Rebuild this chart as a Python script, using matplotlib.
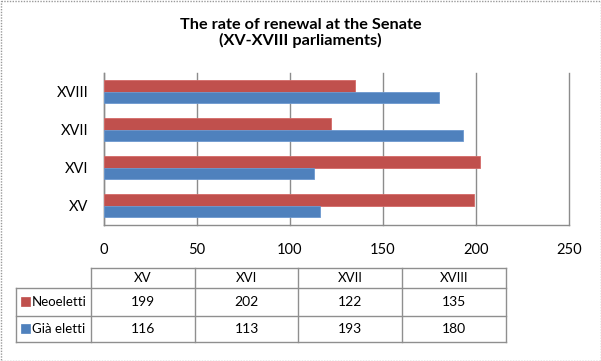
import matplotlib
matplotlib.use("Agg")
import matplotlib.pyplot as plt
from matplotlib.patches import Rectangle

# data
parliaments = ["XV", "XVI", "XVII", "XVIII"]
neoeletti = [199, 202, 122, 135]
gia_eletti = [116, 113, 193, 180]
series_names = ["Neoeletti", "Già eletti"]
series_colors = ["#C0504D", "#4F81BD"]
x_ticks = [0, 50, 100, 150, 200, 250]

plt.rcParams["font.family"] = ["Lato", "DejaVu Sans"]

W, H = 601, 361
fig = plt.figure(figsize=(W / 100, H / 100), dpi=100)
fig.patch.set_facecolor("white")

# plot area in pixels
px_left, px_right, px_top, px_bottom = 104, 569, 72.7, 224.7
ax = fig.add_axes([px_left / W, 1 - px_bottom / H,
                   (px_right - px_left) / W, (px_bottom - px_top) / H])

grid_col = "#8C8C8C"
h = 0.3
ys = list(range(len(parliaments)))
ax.barh([y + h / 2 for y in ys], neoeletti, height=h, color=series_colors[0],
        edgecolor="#D46A67", linewidth=0.6, zorder=3)
ax.barh([y - h / 2 for y in ys], gia_eletti, height=h, color=series_colors[1],
        edgecolor="#6C98CF", linewidth=0.6, zorder=3)

ax.set_xlim(0, 250)
ax.set_ylim(-0.5, len(parliaments) - 0.5)
ax.set_xticks(x_ticks)
ax.set_yticks(ys, labels=parliaments)
for x in x_ticks:
    ax.axvline(x, color=grid_col, lw=1, zorder=1, clip_on=False)
for s in ["top", "right"]:
    ax.spines[s].set_visible(False)
for s in ["left", "bottom"]:
    ax.spines[s].set_color(grid_col)
    ax.spines[s].set_linewidth(1)
ax.tick_params(axis="x", length=0, pad=13, labelsize=10.5, colors="black")
ax.tick_params(axis="y", length=0, pad=11, labelsize=10.5, colors="black")

fig.text(0.5, 1 - 33 / H, "The rate of renewal at the Senate\n(XV-XVIII parliaments)",
         ha="center", va="center", fontsize=11.7, fontweight="bold",
         linespacing=1.15)

# data table below the chart
tb = fig.add_axes([0, 0, 1, 1])
tb.set_xlim(0, W)
tb.set_ylim(H, 0)
tb.axis("off")
tb.patch.set_alpha(0)

col_x = [15.7, 90.7, 195, 298.3, 401.7, 506]
row_y = [268, 288, 315.7, 341.7]
line_col = "#8F8F8F"
# horizontal lines
tb.plot([col_x[1], col_x[-1]], [row_y[0]] * 2, color=line_col, lw=1)
for y in row_y[1:]:
    tb.plot([col_x[0], col_x[-1]], [y] * 2, color=line_col, lw=1)
# vertical lines
tb.plot([col_x[0]] * 2, [row_y[1], row_y[-1]], color=line_col, lw=1)
for x in col_x[1:]:
    tb.plot([x] * 2, [row_y[0], row_y[-1]], color=line_col, lw=1)

for i, name in enumerate(parliaments):
    cx = (col_x[i + 1] + col_x[i + 2]) / 2
    tb.text(cx, (row_y[0] + row_y[1]) / 2 + 0.5, name, ha="center", va="center", fontsize=9.5)
    for r, vals in enumerate([neoeletti, gia_eletti]):
        tb.text(cx, (row_y[r + 1] + row_y[r + 2]) / 2 + 0.5, str(vals[i]),
                ha="center", va="center", fontsize=10)

for r, name in enumerate(series_names):
    cy = (row_y[r + 1] + row_y[r + 2]) / 2
    tb.add_patch(Rectangle((20.7, cy - 4.8), 9.3, 9.3, facecolor=series_colors[r],
                           edgecolor=series_colors[r], lw=0.5))
    tb.text(32, cy + 0.5, name, ha="left", va="center", fontsize=9.5)

# outer frame
tb.add_patch(Rectangle((0.5, 0.5), W - 1, H - 1, fill=False, edgecolor="#9A9A9A",
                       lw=1, linestyle=(0, (1, 1))))

fig.savefig("out.png", dpi=100)
